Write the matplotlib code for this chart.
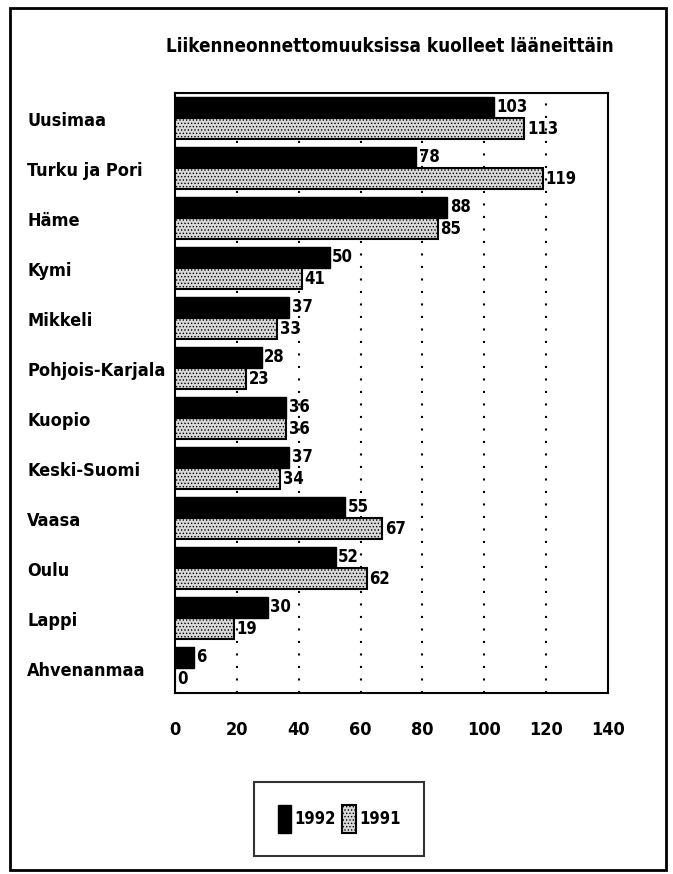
import matplotlib
matplotlib.use("Agg")
import matplotlib.pyplot as plt
from matplotlib.patches import Rectangle
from matplotlib.transforms import blended_transform_factory
import numpy as np

plt.rcParams['font.family'] = ['DejaVu Sans']
plt.rcParams['font.stretch'] = 'condensed'
plt.rcParams['hatch.linewidth'] = 0.6

regions = ["Uusimaa", "Turku ja Pori", "Häme", "Kymi", "Mikkeli", "Pohjois-Karjala",
           "Kuopio", "Keski-Suomi", "Vaasa", "Oulu", "Lappi", "Ahvenanmaa"]
v1992 = [103, 78, 88, 50, 37, 28, 36, 37, 55, 52, 30, 6]
v1991 = [113, 119, 85, 41, 33, 23, 36, 34, 67, 62, 19, 0]
xticks = [0, 20, 40, 60, 80, 100, 120, 140]
title = "Liikenneonnettomuuksissa kuolleet lääneittäin"

W, H = 673, 874
fig = plt.figure(figsize=(W / 100, H / 100), dpi=100)
ax = fig.add_axes([175 / W, 1 - 693 / H, (608 - 175) / W, (693 - 93) / H])

n = len(regions)
y = np.arange(n)
h = 0.42
ax.barh(y - h / 2, v1992, height=h, color='black', edgecolor='black', linewidth=1, zorder=3, label='1992')
ax.barh(y + h / 2, v1991, height=h, color='#d9d9d9', edgecolor='black', linewidth=1.5,
        hatch='.....', zorder=3, label='1991')

for yi, a, b in zip(y, v1992, v1991):
    ax.text(a + 0.8, yi - h / 2, str(a), va='center', ha='left', fontsize=12, fontweight='bold', zorder=4)
    ax.text(b + 0.8, yi + h / 2, str(b), va='center', ha='left', fontsize=12, fontweight='bold', zorder=4)

ax.set_xlim(0, 140)
ax.set_ylim(n - 0.5, -0.5)
ax.set_xticks(xticks)
ax.set_xticklabels([str(t) for t in xticks], fontsize=13, fontweight='bold')
ax.tick_params(axis='x', length=0, pad=20)
ax.set_yticks([])
for t in xticks[1:-1]:
    ax.axvline(t, color='black', linestyle=(0, (1, 5)), linewidth=1.5, zorder=1)
for s in ax.spines.values():
    s.set_linewidth(1.5)

trans = blended_transform_factory(fig.transFigure, ax.transData)
for yi, name in zip(y, regions):
    fig.text(27 / W, yi + 0.05, name, transform=trans, ha='left', va='center', fontsize=13, fontweight='bold')

fig.text(390 / W, 1 - 47 / H, title, ha='center', va='center', fontsize=13.5, fontweight='bold')

leg = fig.legend(loc='center', bbox_to_anchor=(339 / W, 1 - 819 / H), ncol=2, frameon=True,
                 fancybox=False, edgecolor='black', prop={'weight': 'bold', 'size': 12},
                 handlelength=0.8, handleheight=2.2, handletextpad=0.2, columnspacing=0.4,
                 borderpad=1.4)
leg.get_frame().set_linewidth(1.5)

fig.patches.append(Rectangle((10 / W, 1 - 870 / H), (666 - 10) / W, (870 - 8) / H,
                             transform=fig.transFigure, fill=False, edgecolor='black', linewidth=2))

fig.savefig("out.png", dpi=100, facecolor='white')
